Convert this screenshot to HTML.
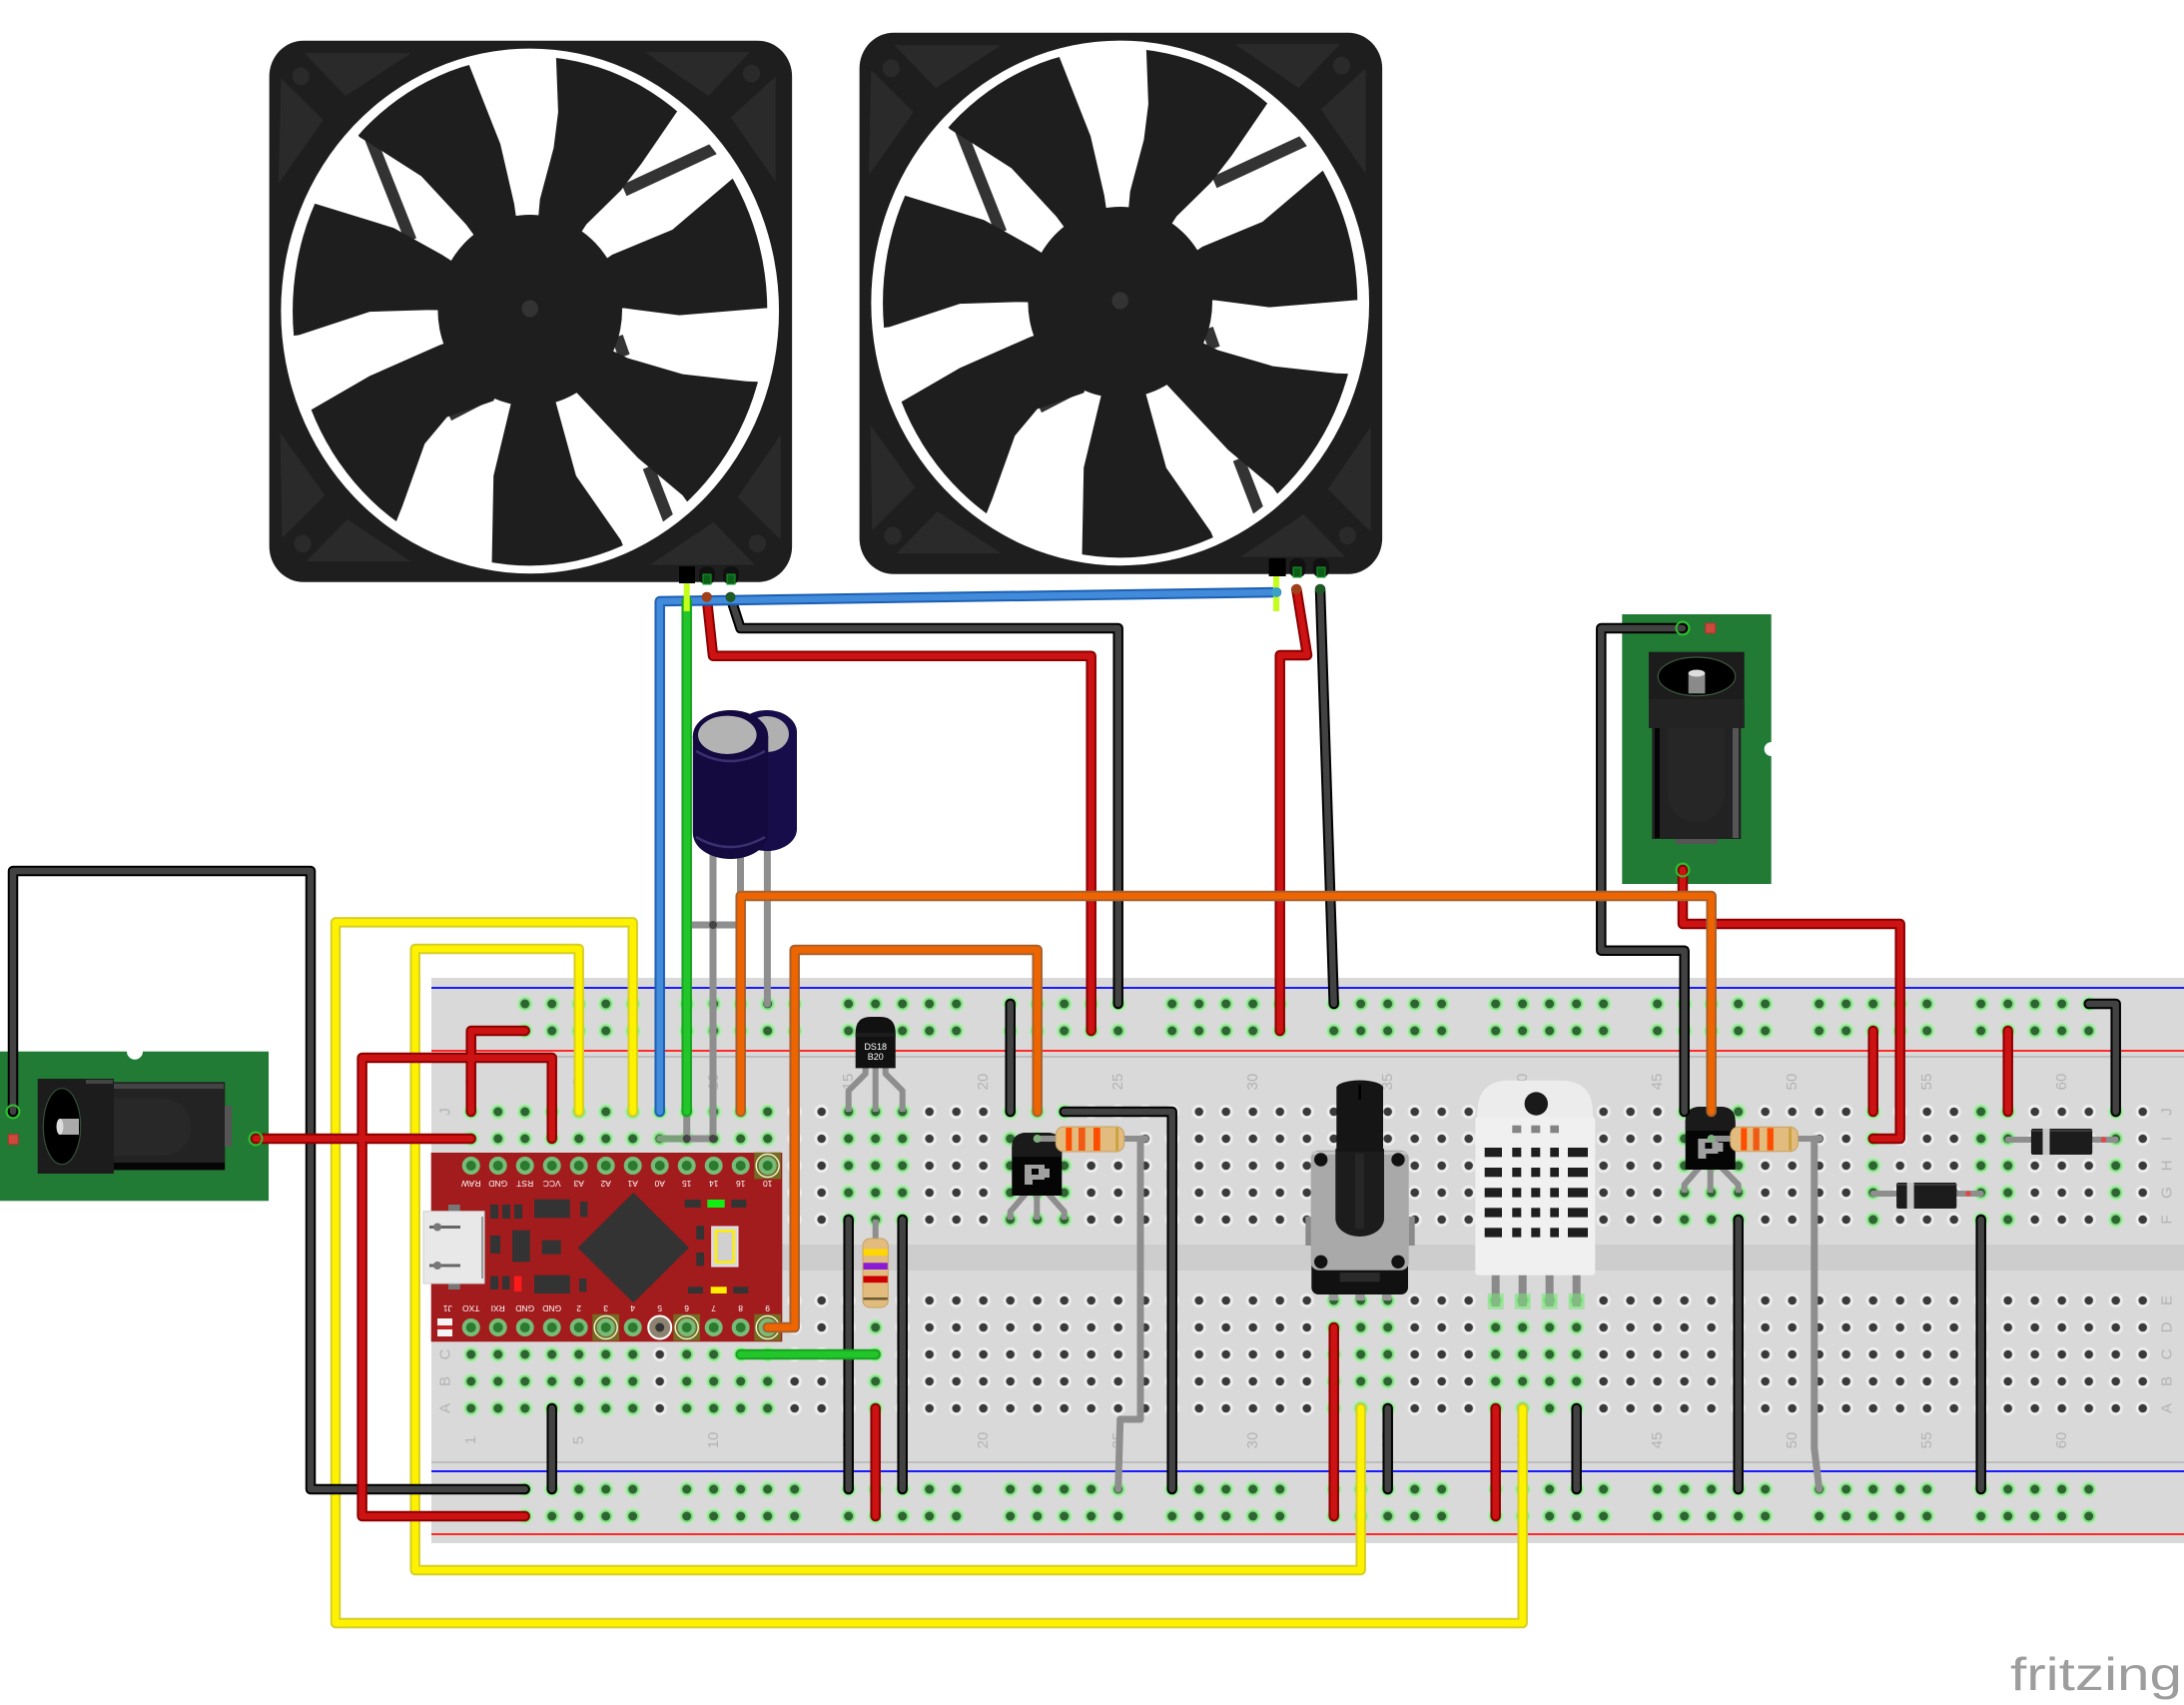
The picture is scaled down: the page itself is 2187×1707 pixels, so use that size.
<!DOCTYPE html>
<html><head><meta charset="utf-8">
<style>
html,body{margin:0;padding:0;background:#fff}
svg{display:block}
.w{fill:none;stroke-linejoin:round;stroke-linecap:round}
.o{stroke-width:10.5}.i{stroke-width:6.5}
.ko{stroke:#000}.ki{stroke:#424242}
.ro{stroke:#8b0000}.ri{stroke:#cc1212}
.yo{stroke:#d6cf25}.yi{stroke:#fff200}
.bo{stroke:#1c5fb3}.bi{stroke:#428bdb}
.go{stroke:#17a31f}.gi{stroke:#22c62b}
.oo{stroke:#a8602e}.oi{stroke:#ee6500}
.gr{fill:none;stroke:#8e8e8e;stroke-width:7;stroke-linejoin:round;stroke-linecap:round}
text{font-family:"Liberation Sans",sans-serif}
.lbl{font-size:15px;fill:#b3b3b3}
.pm{font-size:8.5px;fill:#fff}
</style></head>
<body>
<svg width="2187" height="1707" viewBox="0 0 2187 1707" xmlns="http://www.w3.org/2000/svg">
<defs>
<pattern id="hg" x="458.2" y="1099.5" width="27" height="27" patternUnits="userSpaceOnUse">
<circle cx="13.5" cy="13.5" r="7.2" fill="#ececec"/><circle cx="13.5" cy="13.5" r="4.3" fill="#3a3a3a"/>
</pattern>
<pattern id="hgg" x="458.2" y="1099.5" width="27" height="27" patternUnits="userSpaceOnUse">
<circle cx="13.5" cy="13.5" r="8.2" fill="#b4eeb4"/><circle cx="13.5" cy="13.5" r="6.4" fill="#8edc8e"/><circle cx="13.5" cy="13.5" r="4.5" fill="#2d6530"/>
</pattern>
<pattern id="rt" x="512.2" y="991.5" width="162" height="27" patternUnits="userSpaceOnUse">
<g fill="#b4eeb4"><circle cx="13.5" cy="13.5" r="8.2"/><circle cx="40.5" cy="13.5" r="8.2"/><circle cx="67.5" cy="13.5" r="8.2"/><circle cx="94.5" cy="13.5" r="8.2"/><circle cx="121.5" cy="13.5" r="8.2"/></g>
<g fill="#8edc8e"><circle cx="13.5" cy="13.5" r="6.4"/><circle cx="40.5" cy="13.5" r="6.4"/><circle cx="67.5" cy="13.5" r="6.4"/><circle cx="94.5" cy="13.5" r="6.4"/><circle cx="121.5" cy="13.5" r="6.4"/></g>
<g fill="#2d6530"><circle cx="13.5" cy="13.5" r="4.5"/><circle cx="40.5" cy="13.5" r="4.5"/><circle cx="67.5" cy="13.5" r="4.5"/><circle cx="94.5" cy="13.5" r="4.5"/><circle cx="121.5" cy="13.5" r="4.5"/></g>
</pattern>
<pattern id="rb" href="#rt" x="512.2" y="1477.5"/>
<clipPath id="fc"><ellipse cx="786" cy="788" rx="690" ry="714"/></clipPath>
<g id="fan">
<rect x="28" y="30" width="1520" height="1518" rx="100" fill="#1e1e1e"/>
<g fill="#2a2a2a">
<polygon points="130,65 440,65 250,185"/><polygon points="62,135 185,252 55,430"/>
<polygon points="1120,62 1425,62 1305,185"/><polygon points="1500,130 1500,425 1370,245"/>
<polygon points="60,1130 190,1305 65,1425"/><polygon points="135,1490 440,1490 255,1372"/>
<polygon points="1515,1135 1515,1430 1390,1310"/><polygon points="1135,1500 1440,1500 1320,1380"/>
<circle cx="120" cy="130" r="25"/><circle cx="1430" cy="122" r="25"/><circle cx="125" cy="1440" r="25"/><circle cx="1447" cy="1440" r="25"/>
</g>
<ellipse cx="786" cy="788" rx="724" ry="736" fill="#fff"/>
<g clip-path="url(#fc)">
<g stroke="#333" stroke-width="34" fill="none">
<line x1="300" y1="250" x2="440" y2="590"/>
<line x1="1060" y1="450" x2="1350" y2="320"/>
<line x1="1130" y1="1225" x2="1200" y2="1400"/>
<line x1="550" y1="1080" x2="650" y2="1030"/>
<line x1="165" y1="1178" x2="250" y2="1205"/>
<line x1="1040" y1="860" x2="1060" y2="915"/>
</g>
<g fill="#1e1e1e">
<polygon points="786,788 600,545 470,410 365,345 290,300 200,180 560,0 605,88 700,320 740,487"/>
<polygon points="786,788 815,475 855,330 868,230 862,78 860,0 1300,150 1220,220 1110,375 1050,450 950,545"/>
<polygon points="786,788 1025,630 1200,560 1365,425 1420,380 1600,780 1470,780 1220,800 1060,780"/>
<polygon points="786,788 1070,920 1230,965 1415,985 1550,990 1300,1400 1230,1305 1100,1200 920,1015"/>
<polygon points="786,788 860,1040 920,1250 1050,1430 1100,1550 675,1600 675,1500 680,1250 730,1050"/>
<polygon points="786,788 680,1040 545,1085 480,1160 415,1335 380,1420 50,1100 150,1065 320,970 520,885"/>
<polygon points="786,788 485,785 320,790 115,855 0,870 60,460 155,485 390,555 530,630"/>
</g>
</g>
<circle cx="786" cy="786" r="268" fill="#1e1e1e"/>
<circle cx="786" cy="781" r="24" fill="#333"/>
</g>
</defs>

<!-- breadboard -->
<rect x="432" y="979" width="1755" height="566" fill="#d9d9d9"/>
<rect x="432" y="1246" width="1755" height="26" fill="#cdcdcd"/>
<rect x="432" y="988" width="1755" height="2" fill="#1a1aff"/>
<rect x="432" y="1051" width="1755" height="2" fill="#ff2a2a"/>
<rect x="432" y="1057" width="1755" height="2" fill="#bdbdbd"/>
<rect x="432" y="1463" width="1755" height="2" fill="#bdbdbd"/>
<rect x="432" y="1472" width="1755" height="2" fill="#1a1aff"/>
<rect x="432" y="1535" width="1755" height="2" fill="#ff2a2a"/>

<rect x="458.2" y="1099.5" width="1701" height="135" fill="url(#hg)"/>
<rect x="458.2" y="1288.5" width="1701" height="135" fill="url(#hg)"/>
<g fill="url(#hgg)">
<rect x="458.2" y="1099.5" width="324" height="135"/>
<rect x="836.2" y="1099.5" width="81" height="135"/>
<rect x="998.2" y="1099.5" width="81" height="135"/>
<rect x="1673.2" y="1099.5" width="81" height="135"/>
<rect x="1862.2" y="1099.5" width="27" height="135"/>
<rect x="1970.2" y="1099.5" width="54" height="135"/>
<rect x="2105.2" y="1099.5" width="27" height="135"/>
<rect x="458.2" y="1288.5" width="189" height="135"/>
<rect x="674.2" y="1288.5" width="108" height="135"/>
<rect x="863.2" y="1288.5" width="27" height="135"/>
<rect x="1322.2" y="1288.5" width="81" height="135"/>
<rect x="1484.2" y="1288.5" width="108" height="135"/>
</g>
<rect x="512.2" y="991.5" width="1593" height="54" fill="url(#rt)"/>
<rect x="512.2" y="1477.5" width="1593" height="54" fill="url(#rb)"/>

<!-- labels -->
<g class="lbl" text-anchor="middle" dominant-baseline="central">
<text transform="translate(471.7,1083) rotate(-90)">1</text>
<text transform="translate(579.7,1083) rotate(-90)">5</text>
<text transform="translate(714.7,1083) rotate(-90)">10</text>
<text transform="translate(849.7,1083) rotate(-90)">15</text>
<text transform="translate(984.7,1083) rotate(-90)">20</text>
<text transform="translate(1119.7,1083) rotate(-90)">25</text>
<text transform="translate(1254.7,1083) rotate(-90)">30</text>
<text transform="translate(1389.7,1083) rotate(-90)">35</text>
<text transform="translate(1524.7,1083) rotate(-90)">40</text>
<text transform="translate(1659.7,1083) rotate(-90)">45</text>
<text transform="translate(1794.7,1083) rotate(-90)">50</text>
<text transform="translate(1929.7,1083) rotate(-90)">55</text>
<text transform="translate(2064.7,1083) rotate(-90)">60</text>
<text transform="translate(471.7,1442) rotate(-90)">1</text>
<text transform="translate(579.7,1442) rotate(-90)">5</text>
<text transform="translate(714.7,1442) rotate(-90)">10</text>
<text transform="translate(849.7,1442) rotate(-90)">15</text>
<text transform="translate(984.7,1442) rotate(-90)">20</text>
<text transform="translate(1119.7,1442) rotate(-90)">25</text>
<text transform="translate(1254.7,1442) rotate(-90)">30</text>
<text transform="translate(1389.7,1442) rotate(-90)">35</text>
<text transform="translate(1524.7,1442) rotate(-90)">40</text>
<text transform="translate(1659.7,1442) rotate(-90)">45</text>
<text transform="translate(1794.7,1442) rotate(-90)">50</text>
<text transform="translate(1929.7,1442) rotate(-90)">55</text>
<text transform="translate(2064.7,1442) rotate(-90)">60</text>
<text transform="translate(446,1113) rotate(-90)">J</text>
<text transform="translate(446,1140) rotate(-90)">I</text>
<text transform="translate(446,1167) rotate(-90)">H</text>
<text transform="translate(446,1194) rotate(-90)">G</text>
<text transform="translate(446,1221) rotate(-90)">F</text>
<text transform="translate(446,1302) rotate(-90)">E</text>
<text transform="translate(446,1329) rotate(-90)">D</text>
<text transform="translate(446,1356) rotate(-90)">C</text>
<text transform="translate(446,1383) rotate(-90)">B</text>
<text transform="translate(446,1410) rotate(-90)">A</text>
<text transform="translate(2170,1113) rotate(-90)">J</text>
<text transform="translate(2170,1140) rotate(-90)">I</text>
<text transform="translate(2170,1167) rotate(-90)">H</text>
<text transform="translate(2170,1194) rotate(-90)">G</text>
<text transform="translate(2170,1221) rotate(-90)">F</text>
<text transform="translate(2170,1302) rotate(-90)">E</text>
<text transform="translate(2170,1329) rotate(-90)">D</text>
<text transform="translate(2170,1356) rotate(-90)">C</text>
<text transform="translate(2170,1383) rotate(-90)">B</text>
<text transform="translate(2170,1410) rotate(-90)">A</text>
</g>

<!-- Pro Micro -->
<rect x="431.7" y="1154" width="351.6" height="189.3" fill="#a21b1d"/>
<g fill="#333">
<rect x="491" y="1206" width="8" height="14"/><rect x="503" y="1206" width="8" height="14"/><rect x="515" y="1206" width="8" height="14"/>
<rect x="535" y="1200.7" width="35.7" height="18.6"/><rect x="581" y="1203" width="7.3" height="15.3"/>
<rect x="491" y="1237" width="10" height="18"/><rect x="513" y="1231.7" width="17.7" height="31.6"/><rect x="542.7" y="1241.7" width="19" height="14"/>
<rect x="491" y="1277.7" width="8" height="13.3"/><rect x="503" y="1277.7" width="7.3" height="13.3"/>
<rect x="535" y="1276.7" width="35.7" height="18.3"/><rect x="580" y="1280" width="7.3" height="13.3"/>
<rect x="685.7" y="1201" width="16" height="8"/><rect x="732.3" y="1201" width="15" height="8"/>
<rect x="697.3" y="1227.3" width="7.7" height="13.7"/><rect x="697.3" y="1254" width="7.7" height="13.3"/>
<rect x="689" y="1288.3" width="15" height="6.7"/><rect x="734.3" y="1288.3" width="15" height="6.7"/>
<polygon points="634.3,1194 690,1249.3 634.3,1304.3 578.6,1249.3"/>
</g>
<rect x="515" y="1277.7" width="7.3" height="15.3" fill="#ff1a1a"/>
<rect x="708.3" y="1201" width="17.4" height="8" fill="#11ee11"/>
<rect x="711.7" y="1288.3" width="16" height="6.7" fill="#ffee00"/>
<rect x="712.7" y="1228" width="26.3" height="40" fill="#d8d8d8" stroke="#eee" stroke-width="1"/>
<rect x="717" y="1232.5" width="17.7" height="31" fill="#d0d0d0" stroke="#ffee00" stroke-width="2.5"/>
<rect x="449" y="1206" width="11.7" height="7" fill="#777"/>
<rect x="449" y="1284" width="11.7" height="7" fill="#777"/>
<rect x="424" y="1212.7" width="61" height="72.3" fill="#e8e8e8" stroke="#cfcfcf" stroke-width="1"/>
<rect x="482" y="1218" width="2" height="62" fill="#999"/>
<rect x="430" y="1227" width="31" height="3" fill="#666"/><circle cx="438" cy="1228.5" r="4" fill="#777"/>
<rect x="430" y="1265.5" width="31" height="3" fill="#666"/><circle cx="438" cy="1267" r="4" fill="#777"/>
<rect x="438" y="1320" width="15" height="18" fill="#f4f4f4"/><rect x="438" y="1327" width="15" height="4" fill="#c02020"/>
<!-- special pin backgrounds -->
<g fill="#77691f"><rect x="755.3" y="1153.7" width="26.7" height="26.7"/><rect x="593.3" y="1315.7" width="26.7" height="26.7"/><rect x="674.3" y="1315.7" width="26.7" height="26.7"/><rect x="755.3" y="1315.7" width="26.7" height="26.7"/></g>
<g fill="#78bb78">
<circle cx="471.7" cy="1167" r="9"/><circle cx="498.7" cy="1167" r="9"/><circle cx="525.7" cy="1167" r="9"/><circle cx="552.7" cy="1167" r="9"/><circle cx="579.7" cy="1167" r="9"/><circle cx="606.7" cy="1167" r="9"/><circle cx="633.7" cy="1167" r="9"/><circle cx="660.7" cy="1167" r="9"/><circle cx="687.7" cy="1167" r="9"/><circle cx="714.7" cy="1167" r="9"/><circle cx="741.7" cy="1167" r="9"/><circle cx="768.7" cy="1167" r="9"/>
<circle cx="471.7" cy="1329" r="9"/><circle cx="498.7" cy="1329" r="9"/><circle cx="525.7" cy="1329" r="9"/><circle cx="552.7" cy="1329" r="9"/><circle cx="579.7" cy="1329" r="9"/><circle cx="606.7" cy="1329" r="9"/><circle cx="633.7" cy="1329" r="9"/><circle cx="687.7" cy="1329" r="9"/><circle cx="714.7" cy="1329" r="9"/><circle cx="741.7" cy="1329" r="9"/><circle cx="768.7" cy="1329" r="9"/>
</g>
<circle cx="660.7" cy="1329" r="11.5" fill="#8d8270" stroke="#fff" stroke-width="2"/>
<g fill="#2b7a2e">
<circle cx="471.7" cy="1167" r="5"/><circle cx="498.7" cy="1167" r="5"/><circle cx="525.7" cy="1167" r="5"/><circle cx="552.7" cy="1167" r="5"/><circle cx="579.7" cy="1167" r="5"/><circle cx="606.7" cy="1167" r="5"/><circle cx="633.7" cy="1167" r="5"/><circle cx="660.7" cy="1167" r="5"/><circle cx="687.7" cy="1167" r="5"/><circle cx="714.7" cy="1167" r="5"/><circle cx="741.7" cy="1167" r="5"/><circle cx="768.7" cy="1167" r="5"/>
<circle cx="471.7" cy="1329" r="5"/><circle cx="498.7" cy="1329" r="5"/><circle cx="525.7" cy="1329" r="5"/><circle cx="552.7" cy="1329" r="5"/><circle cx="579.7" cy="1329" r="5"/><circle cx="606.7" cy="1329" r="5"/><circle cx="633.7" cy="1329" r="5"/><circle cx="687.7" cy="1329" r="5"/><circle cx="714.7" cy="1329" r="5"/><circle cx="741.7" cy="1329" r="5"/><circle cx="768.7" cy="1329" r="5"/>
</g>
<circle cx="660.7" cy="1329" r="4.5" fill="#333"/>
<g fill="none" stroke="#e6f3d6" stroke-width="1.5"><circle cx="768.7" cy="1167" r="11.5"/><circle cx="606.7" cy="1329" r="11.5"/><circle cx="687.7" cy="1329" r="11.5"/><circle cx="768.7" cy="1329" r="11.5"/></g>
<g class="pm" text-anchor="middle" dominant-baseline="central">
<text transform="translate(471.7,1185) rotate(180)">RAW</text>
<text transform="translate(498.7,1185) rotate(180)">GND</text>
<text transform="translate(525.7,1185) rotate(180)">RST</text>
<text transform="translate(552.7,1185) rotate(180)">VCC</text>
<text transform="translate(579.7,1185) rotate(180)">A3</text>
<text transform="translate(606.7,1185) rotate(180)">A2</text>
<text transform="translate(633.7,1185) rotate(180)">A1</text>
<text transform="translate(660.7,1185) rotate(180)">A0</text>
<text transform="translate(687.7,1185) rotate(180)">15</text>
<text transform="translate(714.7,1185) rotate(180)">14</text>
<text transform="translate(741.7,1185) rotate(180)">16</text>
<text transform="translate(768.7,1185) rotate(180)">10</text>
<text transform="translate(448.3,1310) rotate(180)">J1</text>
<text transform="translate(471.7,1310) rotate(180)">TXO</text>
<text transform="translate(498.7,1310) rotate(180)">RXI</text>
<text transform="translate(525.7,1310) rotate(180)">GND</text>
<text transform="translate(552.7,1310) rotate(180)">GND</text>
<text transform="translate(579.7,1310) rotate(180)">2</text>
<text transform="translate(606.7,1310) rotate(180)">3</text>
<text transform="translate(633.7,1310) rotate(180)">4</text>
<text transform="translate(660.7,1310) rotate(180)">5</text>
<text transform="translate(687.7,1310) rotate(180)">6</text>
<text transform="translate(714.7,1310) rotate(180)">7</text>
<text transform="translate(741.7,1310) rotate(180)">8</text>
<text transform="translate(768.7,1310) rotate(180)">9</text>
</g>

<!-- DS18B20 -->
<g stroke="#8e8e8e" stroke-width="6" fill="none" stroke-linejoin="round">
<polyline points="866.7,1066 866.7,1075 849.7,1092 849.7,1113"/>
<polyline points="876.7,1066 876.7,1113"/>
<polyline points="886.7,1066 886.7,1075 903.7,1092 903.7,1113"/>
</g>
<path d="M856.7,1069.4 V1034 Q856.7,1018 872,1018 H881.4 Q896.7,1018 896.7,1034 V1069.4 Z" fill="#111"/>
<rect x="856.7" y="1034" width="40" height="4" fill="#1c1c1c"/>
<text x="876.7" y="1051" font-size="9" fill="#fff" text-anchor="middle">DS18</text>
<text x="876.7" y="1061" font-size="9" fill="#fff" text-anchor="middle">B20</text>

<!-- resistor 2 vertical -->
<line x1="876.7" y1="1221" x2="876.7" y2="1302" stroke="#8e8e8e" stroke-width="6"/>
<rect x="864" y="1240" width="25.3" height="69" rx="7" fill="#e2bb7e" stroke="#c9a060" stroke-width="1"/>
<rect x="864.5" y="1250.5" width="24.3" height="6.5" fill="#ffd700"/>
<rect x="864.5" y="1264.3" width="24.3" height="6.7" fill="#8a1ad6"/>
<rect x="864.5" y="1277.5" width="24.3" height="6.7" fill="#cc0000"/>
<rect x="864.5" y="1299" width="24.3" height="2.5" fill="#6b5a30"/>

<!-- transistor 1 -->
<g stroke="#8e8e8e" stroke-width="6" fill="none" stroke-linejoin="round">
<polyline points="1028,1194 1011.7,1213 1011.7,1221"/><polyline points="1038.3,1194 1038.3,1221"/><polyline points="1048.6,1194 1065.7,1213 1065.7,1221"/>
</g>
<path d="M1013.3,1197 V1149 Q1013.3,1134 1028.3,1134 H1048.3 Q1063.3,1134 1063.3,1149 V1197 Z" fill="#050505"/>
<path d="M1013.3,1158 V1149 Q1013.3,1134 1028.3,1134 H1048.3 Q1063.3,1134 1063.3,1149 V1158 Z" fill="#1a1a1a"/>
<path d="M1026,1166 H1046 V1170 H1051 V1179 H1046 V1181 H1034 V1186 H1026 Z" fill="#a0a0a0"/>
<rect x="1033" y="1170" width="7" height="6" fill="#050505"/>
<!-- resistor 1 -->
<line x1="1038.7" y1="1140" x2="1146.7" y2="1140" stroke="#8e8e8e" stroke-width="6" stroke-linecap="round"/>
<circle cx="1038.7" cy="1140" r="4" fill="#7fb07f"/>
<rect x="1057.3" y="1128" width="68.4" height="25" rx="8" fill="#e2bb7e" stroke="#c9a060" stroke-width="1"/>
<rect x="1067.3" y="1129" width="6" height="23" fill="#ff4d00"/>
<rect x="1080" y="1129" width="6.7" height="23" fill="#f05a14"/>
<rect x="1095" y="1129" width="6.7" height="23" fill="#ff4d00"/>
<rect x="1117.3" y="1129" width="2.7" height="23" fill="#c9a13d"/>

<!-- potentiometer -->
<rect x="1307.3" y="1218" width="6" height="29" fill="#8a8a8a"/>
<rect x="1410.7" y="1218" width="6" height="29" fill="#8a8a8a"/>
<g fill="#999"><rect x="1330.7" y="1288" width="9.3" height="14"/><rect x="1357.3" y="1288" width="9.3" height="14"/><rect x="1384" y="1288" width="9.3" height="14"/></g>
<rect x="1313.3" y="1255" width="96.7" height="41" rx="7" fill="#111"/>
<rect x="1341.7" y="1274" width="40" height="9.3" fill="#2a2a2a"/>
<rect x="1312.7" y="1151.7" width="98" height="120" rx="8" fill="#a9a9a9"/>
<rect x="1314" y="1153" width="95" height="3" fill="#c4c4c4"/>
<g fill="#111"><circle cx="1322.7" cy="1161" r="6.7"/><circle cx="1400" cy="1161" r="6.7"/><circle cx="1322.7" cy="1263.3" r="6.7"/><circle cx="1400" cy="1263.3" r="6.7"/></g>
<path d="M1337.3,1150 V1220 A24.3,18 0 0 0 1386,1220 V1150 Z" fill="#1c1c1c"/>
<rect x="1357" y="1155" width="9" height="75" fill="#262626"/>
<rect x="1338.3" y="1088" width="46.7" height="65" fill="#151515"/>
<ellipse cx="1361.7" cy="1089" rx="23.3" ry="7.5" fill="#151515"/>
<line x1="1361.7" y1="1086" x2="1361.7" y2="1101" stroke="#000" stroke-width="2.5"/>

<!-- DHT22 -->
<g fill="#8a8a8a"><rect x="1493.7" y="1270" width="8" height="38"/><rect x="1520.7" y="1270" width="8" height="38"/><rect x="1547.7" y="1270" width="8" height="38"/><rect x="1574.7" y="1270" width="8" height="38"/></g>
<g fill="#7ee07e" fill-opacity="0.55"><rect x="1489.7" y="1295" width="16" height="16"/><rect x="1516.7" y="1295" width="16" height="16"/><rect x="1543.7" y="1295" width="16" height="16"/><rect x="1570.7" y="1295" width="16" height="16"/></g>
<path d="M1479.3,1120 V1114 Q1479.3,1081.7 1512,1081.7 H1562 Q1595,1081.7 1595,1114 V1120 Z" fill="#ececec"/>
<rect x="1477.3" y="1118.3" width="120" height="158.4" rx="3" fill="#f0f0f0"/>
<circle cx="1538.3" cy="1105" r="11.7" fill="#1a1a1a"/>
<g fill="#1e1e1e">
<rect x="1486.7" y="1149" width="17.3" height="9.3"/><rect x="1514.3" y="1149" width="9" height="9.3"/><rect x="1533.3" y="1149" width="9" height="9.3"/><rect x="1552.3" y="1149" width="8.7" height="9.3"/><rect x="1570" y="1149" width="20" height="9.3"/>
<rect x="1486.7" y="1169" width="17.3" height="9.3"/><rect x="1514.3" y="1169" width="9" height="9.3"/><rect x="1533.3" y="1169" width="9" height="9.3"/><rect x="1552.3" y="1169" width="8.7" height="9.3"/><rect x="1570" y="1169" width="20" height="9.3"/>
<rect x="1486.7" y="1189.3" width="17.3" height="9.3"/><rect x="1514.3" y="1189.3" width="9" height="9.3"/><rect x="1533.3" y="1189.3" width="9" height="9.3"/><rect x="1552.3" y="1189.3" width="8.7" height="9.3"/><rect x="1570" y="1189.3" width="20" height="9.3"/>
<rect x="1486.7" y="1209.3" width="17.3" height="9.3"/><rect x="1514.3" y="1209.3" width="9" height="9.3"/><rect x="1533.3" y="1209.3" width="9" height="9.3"/><rect x="1552.3" y="1209.3" width="8.7" height="9.3"/><rect x="1570" y="1209.3" width="20" height="9.3"/>
<rect x="1486.7" y="1229.3" width="17.3" height="9.3"/><rect x="1514.3" y="1229.3" width="9" height="9.3"/><rect x="1533.3" y="1229.3" width="9" height="9.3"/><rect x="1552.3" y="1229.3" width="8.7" height="9.3"/><rect x="1570" y="1229.3" width="20" height="9.3"/>
</g>
<g fill="#555" fill-opacity="0.7"><rect x="1514.3" y="1126.7" width="9" height="7.6"/><rect x="1533.3" y="1126.7" width="9" height="7.6"/><rect x="1552.3" y="1126.7" width="8.7" height="7.6"/></g>

<!-- transistor 2 -->
<g stroke="#8e8e8e" stroke-width="6" fill="none" stroke-linejoin="round">
<polyline points="1702.4,1168 1686.7,1186 1686.7,1194"/><polyline points="1712.7,1168 1712.7,1194"/><polyline points="1723,1168 1740.7,1186 1740.7,1194"/>
</g>
<path d="M1687.7,1171 V1123 Q1687.7,1108 1702.7,1108 H1722.7 Q1737.7,1108 1737.7,1123 V1171 Z" fill="#050505"/>
<path d="M1687.7,1132 V1123 Q1687.7,1108 1702.7,1108 H1722.7 Q1737.7,1108 1737.7,1123 V1132 Z" fill="#1a1a1a"/>
<path d="M1700.4,1140 H1720.4 V1144 H1725.4 V1153 H1720.4 V1155 H1708.4 V1160 H1700.4 Z" fill="#a0a0a0"/>
<rect x="1707.4" y="1144" width="7" height="6" fill="#050505"/>
<!-- resistor 3 -->
<line x1="1713.7" y1="1140" x2="1821.7" y2="1140" stroke="#8e8e8e" stroke-width="6" stroke-linecap="round"/>
<circle cx="1713.7" cy="1140" r="4" fill="#7fb07f"/>
<rect x="1732.8" y="1128.3" width="67.6" height="24.4" rx="8" fill="#e2bb7e" stroke="#c9a060" stroke-width="1"/>
<rect x="1743.3" y="1129.3" width="6" height="22.4" fill="#ff4d00"/>
<rect x="1755.5" y="1129.3" width="6.3" height="22.4" fill="#f05a14"/>
<rect x="1769.6" y="1129.3" width="6.3" height="22.4" fill="#ff4d00"/>
<rect x="1791.3" y="1129.3" width="2.7" height="22.4" fill="#c9a13d"/>

<!-- diodes -->
<line x1="2010.7" y1="1141" x2="2118.7" y2="1141" stroke="#8e8e8e" stroke-width="6" stroke-linecap="round"/>
<rect x="2033.9" y="1130" width="61.3" height="26" rx="2" fill="#1c1c1c"/>
<rect x="2034" y="1131" width="61" height="2" fill="#3a3a3a"/>
<rect x="2045.5" y="1130" width="7" height="26" fill="#c8c8c8"/>
<circle cx="2106.4" cy="1141" r="2.8" fill="#e04848"/>
<line x1="1875.7" y1="1195" x2="1983.7" y2="1195" stroke="#8e8e8e" stroke-width="6" stroke-linecap="round"/>
<rect x="1899.1" y="1184" width="60.2" height="26" rx="2" fill="#1c1c1c"/>
<rect x="1899.2" y="1185" width="60" height="2" fill="#3a3a3a"/>
<rect x="1909.6" y="1184" width="7" height="26" fill="#c8c8c8"/>
<circle cx="1970.9" cy="1195" r="2.8" fill="#e04848"/>

<!-- left DC jack -->
<rect x="0" y="1052.7" width="269" height="149.6" fill="#217b35"/>
<circle cx="135" cy="1052.7" r="8" fill="#fff"/>
<rect x="114" y="1083.3" width="111.3" height="88.3" fill="#232323"/>
<rect x="114" y="1085" width="110" height="5" fill="#444"/>
<rect x="114" y="1164" width="111" height="7" fill="#050505"/>
<path d="M114,1100 H163 A28,28 0 0 1 163,1157 H114 Z" fill="#282828"/>
<rect x="225" y="1107" width="7" height="41" fill="#555"/>
<rect x="37.7" y="1080" width="76.3" height="95" fill="#1c1c1c"/>
<rect x="86" y="1081" width="27" height="4" fill="#444"/>
<ellipse cx="62" cy="1127.7" rx="18.7" ry="38" fill="#000" stroke="#34503b" stroke-width="1.2"/>
<rect x="60" y="1120" width="19" height="16" fill="#aaa"/>
<ellipse cx="60" cy="1128" rx="3.5" ry="8" fill="#ddd"/>
<rect x="8.3" y="1135.7" width="10" height="10" fill="#cc4a3a" stroke="#b03030" stroke-width="1"/>

<!-- right DC jack -->
<rect x="1624.3" y="615" width="149.4" height="270" fill="#217b35"/>
<circle cx="1773.7" cy="750" r="7" fill="#fff"/>
<rect x="1707.7" y="624" width="10" height="10" fill="#cc4a3a" stroke="#b03030" stroke-width="1"/>
<rect x="1654.3" y="700" width="89" height="140" fill="#222"/>
<path d="M1670,729 V795 A28,28 0 0 0 1727,795 V729 Z" fill="#262626"/>
<rect x="1657" y="729" width="5" height="110" fill="#050505"/>
<rect x="1735" y="729" width="6" height="110" fill="#555"/>
<rect x="1678" y="840" width="42" height="5" fill="#555"/>
<rect x="1651" y="652.7" width="95.7" height="76.3" fill="#1c1c1c"/>
<rect x="1651" y="700" width="95.7" height="29" fill="#232323"/>
<ellipse cx="1699" cy="677.3" rx="38.7" ry="19.3" fill="#000" stroke="#3a5a40" stroke-width="1.2"/>
<rect x="1690.7" y="674" width="16.7" height="20.3" fill="#8a8a8a"/>
<ellipse cx="1699" cy="674" rx="8.3" ry="3.5" fill="#ddd"/>

<!-- capacitors -->
<g stroke="#8e8e8e" stroke-width="7" fill="none" stroke-linecap="round" stroke-linejoin="round">
<polyline points="714,850 714,1140"/><polyline points="741.5,850 741.5,926"/><polyline points="693,926 741.5,926"/><polyline points="768.4,850 768.4,1005"/><polyline points="687.7,1113 687.7,1140"/><polyline points="687.7,1140 714,1140"/>
</g>
<line x1="660.7" y1="1140" x2="687.7" y2="1140" stroke="#7aa07a" stroke-width="7" stroke-linecap="round"/>
<circle cx="714" cy="926" r="4" fill="#444"/><circle cx="687.7" cy="1140" r="4" fill="#444"/><circle cx="714" cy="1140" r="4" fill="#444"/>
<path d="M738,733 V830 A30,22 0 0 0 798,830 V733 Z" fill="#170d4a"/>
<ellipse cx="768" cy="733" rx="30" ry="22" fill="#170d4a"/>
<ellipse cx="768" cy="735" rx="22" ry="18" fill="#b0b0b0"/>
<path d="M693.8,737 V834 A37.7,26 0 0 0 769.3,834 V737 Z" fill="#140a40"/>
<ellipse cx="731.5" cy="737" rx="37.7" ry="26" fill="#140a40"/>
<ellipse cx="728.3" cy="735.8" rx="29.3" ry="19.2" fill="#b3b3b3"/>
<path d="M697,752 Q731,772 766,752" fill="none" stroke="#3a3070" stroke-width="2.5"/>
<path d="M697,838 Q731,858 766,838" fill="none" stroke="#3a3070" stroke-width="2.5"/>

<!-- fans -->
<use href="#fan" transform="translate(260,30) scale(0.3444,0.3571)"/>
<use href="#fan" transform="translate(851,22) scale(0.3444,0.3571)"/>
<!-- fan connectors -->
<rect x="680" y="567" width="16" height="17" fill="#000"/>
<rect x="700" y="567" width="16" height="18" rx="7" fill="#111"/>
<rect x="724" y="567" width="16" height="18" rx="7" fill="#111"/>
<rect x="704" y="575" width="8" height="10" fill="#0b5e15" stroke="#1a9a2a" stroke-width="1"/>
<rect x="728" y="575" width="8" height="10" fill="#0b5e15" stroke="#1a9a2a" stroke-width="1"/>
<rect x="1270.6" y="559" width="17" height="18" fill="#000"/>
<rect x="1291" y="559" width="16.5" height="19" rx="7" fill="#111"/>
<rect x="1314.8" y="559" width="16.2" height="19" rx="7" fill="#111"/>
<rect x="1295" y="568" width="8" height="10" fill="#0b5e15" stroke="#1a9a2a" stroke-width="1"/>
<rect x="1319" y="568" width="8" height="10" fill="#0b5e15" stroke="#1a9a2a" stroke-width="1"/>

<!-- wires: gray -->
<polyline class="gr" points="1146.7,1140 1142,1140 1142,1421 1121.7,1421 1119.7,1491"/>
<polyline class="gr" points="1821.7,1140 1816.8,1140 1816.8,1450 1821.7,1491"/>

<!-- wires: yellow -->
<polyline class="w o yo" points="633.7,1113 633.7,923.4 336,923.4 336,1625 1524.7,1625 1524.7,1410"/>
<polyline class="w i yi" points="633.7,1113 633.7,923.4 336,923.4 336,1625 1524.7,1625 1524.7,1410"/>
<polyline class="w o yo" points="579.7,1113 579.7,950 415.7,950 415.7,1572 1362.7,1572 1362.7,1410"/>
<polyline class="w i yi" points="579.7,1113 579.7,950 415.7,950 415.7,1572 1362.7,1572 1362.7,1410"/>

<!-- wires: black -->
<g>
<polyline class="w o ko" points="13,1113 13,872 311,872 311,1491 525.7,1491"/>
<polyline class="w o ko" points="731.5,598 741.5,629 1119.7,629 1119.7,1005"/>
<polyline class="w o ko" points="1322,590 1335.7,1005"/>
<polyline class="w o ko" points="552.7,1410 552.7,1491"/>
<polyline class="w o ko" points="849.7,1221 849.7,1491"/>
<polyline class="w o ko" points="903.7,1221 903.7,1491"/>
<polyline class="w o ko" points="1011.7,1005 1011.7,1113"/>
<polyline class="w o ko" points="1065.7,1113 1173.7,1113 1173.7,1491"/>
<polyline class="w o ko" points="1389.7,1410 1389.7,1491"/>
<polyline class="w o ko" points="1578.7,1410 1578.7,1491"/>
<polyline class="w o ko" points="1740.7,1221 1740.7,1491"/>
<polyline class="w o ko" points="1983.7,1221 1983.7,1491"/>
<polyline class="w o ko" points="2118.7,1113 2118.7,1005 2091.7,1005"/>
<polyline class="w o ko" points="1685,629 1603.3,629 1603.3,951.7 1686.7,951.7 1686.7,1113"/>
</g>
<g>
<polyline class="w i ki" points="13,1113 13,872 311,872 311,1491 525.7,1491"/>
<polyline class="w i ki" points="731.5,598 741.5,629 1119.7,629 1119.7,1005"/>
<polyline class="w i ki" points="1322,590 1335.7,1005"/>
<polyline class="w i ki" points="552.7,1410 552.7,1491"/>
<polyline class="w i ki" points="849.7,1221 849.7,1491"/>
<polyline class="w i ki" points="903.7,1221 903.7,1491"/>
<polyline class="w i ki" points="1011.7,1005 1011.7,1113"/>
<polyline class="w i ki" points="1065.7,1113 1173.7,1113 1173.7,1491"/>
<polyline class="w i ki" points="1389.7,1410 1389.7,1491"/>
<polyline class="w i ki" points="1578.7,1410 1578.7,1491"/>
<polyline class="w i ki" points="1740.7,1221 1740.7,1491"/>
<polyline class="w i ki" points="1983.7,1221 1983.7,1491"/>
<polyline class="w i ki" points="2118.7,1113 2118.7,1005 2091.7,1005"/>
<polyline class="w i ki" points="1685,629 1603.3,629 1603.3,951.7 1686.7,951.7 1686.7,1113"/>
</g>

<!-- wires: red -->
<g>
<polyline class="w o ro" points="256,1140 471.7,1140"/>
<polyline class="w o ro" points="525.7,1032 471.7,1032 471.7,1113"/>
<polyline class="w o ro" points="552.7,1140 552.7,1059 362.6,1059 362.6,1518 525.7,1518"/>
<polyline class="w o ro" points="707.7,598 714,656.7 1092.7,656.7 1092.7,1032"/>
<polyline class="w o ro" points="1298.3,590 1309,656 1281.7,656 1281.7,1032"/>
<polyline class="w o ro" points="876.7,1410 876.7,1518"/>
<polyline class="w o ro" points="1335.7,1329 1335.7,1518"/>
<polyline class="w o ro" points="1497.7,1410 1497.7,1518"/>
<polyline class="w o ro" points="1875.7,1032 1875.7,1113"/>
<polyline class="w o ro" points="2010.7,1032 2010.7,1113"/>
<polyline class="w o ro" points="1685,871 1685,925 1902.7,925 1902.7,1140 1875.7,1140"/>
</g>
<g>
<polyline class="w i ri" points="256,1140 471.7,1140"/>
<polyline class="w i ri" points="525.7,1032 471.7,1032 471.7,1113"/>
<polyline class="w i ri" points="552.7,1140 552.7,1059 362.6,1059 362.6,1518 525.7,1518"/>
<polyline class="w i ri" points="707.7,598 714,656.7 1092.7,656.7 1092.7,1032"/>
<polyline class="w i ri" points="1298.3,590 1309,656 1281.7,656 1281.7,1032"/>
<polyline class="w i ri" points="876.7,1410 876.7,1518"/>
<polyline class="w i ri" points="1335.7,1329 1335.7,1518"/>
<polyline class="w i ri" points="1497.7,1410 1497.7,1518"/>
<polyline class="w i ri" points="1875.7,1032 1875.7,1113"/>
<polyline class="w i ri" points="2010.7,1032 2010.7,1113"/>
<polyline class="w i ri" points="1685,871 1685,925 1902.7,925 1902.7,1140 1875.7,1140"/>
</g>

<!-- blue / green / orange -->
<polyline class="w o bo" points="1278,593 660.7,602 660.7,1113"/>
<polyline class="w i bi" points="1278,593 660.7,602 660.7,1113"/>
<polyline class="w o go" points="687.7,602 687.7,1113"/>
<polyline class="w i gi" points="687.7,602 687.7,1113"/>
<polyline class="w o go" points="741.7,1356 876.7,1356"/>
<polyline class="w i gi" points="741.7,1356 876.7,1356"/>
<polyline class="w o oo" points="741.7,1113 741.7,897 1713.7,897 1713.7,1113"/>
<polyline class="w i oi" points="741.7,1113 741.7,897 1713.7,897 1713.7,1113"/>
<polyline class="w o oo" points="768.7,1329 795.7,1329 795.7,951 1038.7,951 1038.7,1113"/>
<polyline class="w i oi" points="768.7,1329 795.7,1329 795.7,951 1038.7,951 1038.7,1113"/>

<!-- fan leads -->
<line x1="687.7" y1="584" x2="687.7" y2="612" stroke="#c3ff1a" stroke-width="6"/>
<line x1="1278" y1="577" x2="1278" y2="612" stroke="#c3ff1a" stroke-width="6"/>
<circle cx="1278" cy="593" r="5" fill="#3aa0c8"/>
<circle cx="707.7" cy="598" r="5" fill="#a04018"/>
<circle cx="731.5" cy="598" r="5" fill="#1d5a25"/>
<circle cx="1298.3" cy="590" r="5" fill="#a04018"/>
<circle cx="1322" cy="590" r="5" fill="#1d5a25"/>

<!-- jack terminal rings -->
<circle cx="13" cy="1113" r="6.5" fill="none" stroke="#2fbf2f" stroke-width="2"/>
<circle cx="256" cy="1140" r="6.5" fill="none" stroke="#2fbf2f" stroke-width="2"/>
<circle cx="1685" cy="629" r="6.5" fill="none" stroke="#2fbf2f" stroke-width="2"/>
<circle cx="1685" cy="871" r="6.5" fill="none" stroke="#2fbf2f" stroke-width="2"/>

<!-- logo -->
<text x="2013" y="1692" font-size="46" fill="#9d9d9d" textLength="172" lengthAdjust="spacingAndGlyphs">fritzing</text>
</svg>
</body></html>
